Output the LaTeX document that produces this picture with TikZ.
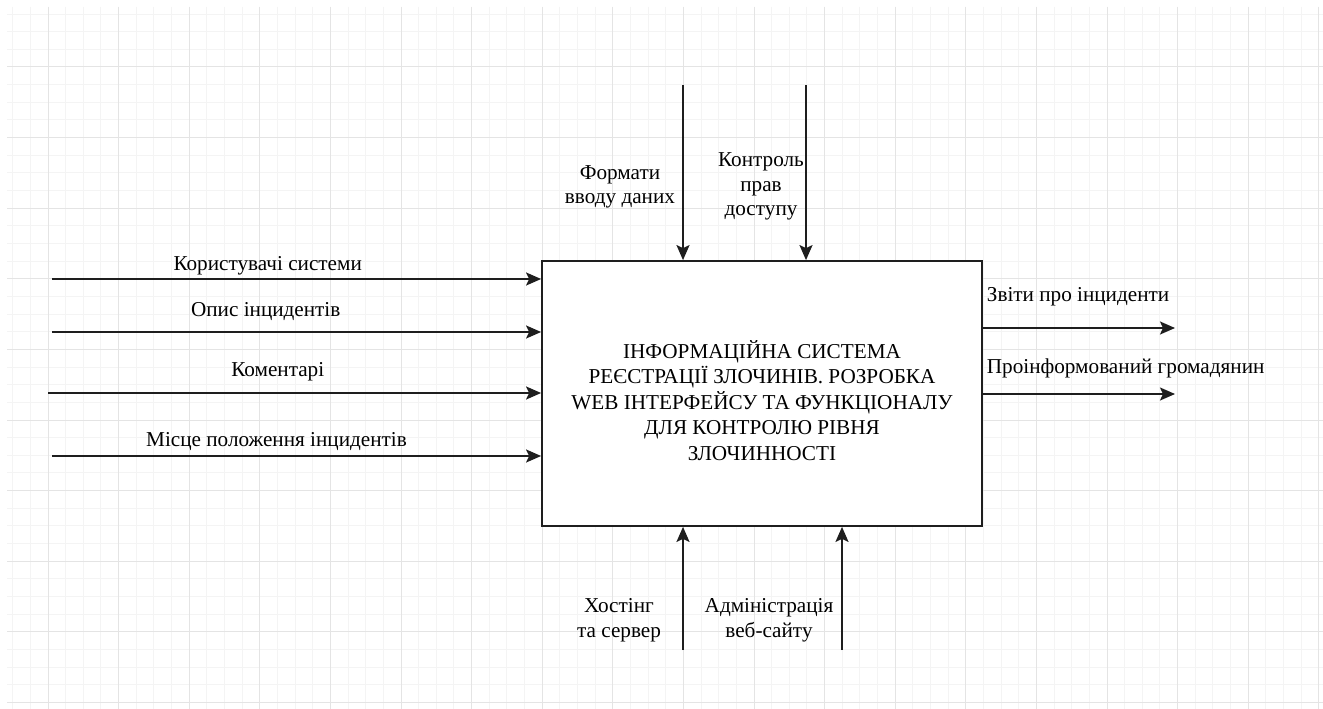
\documentclass[tikz,border=0pt]{standalone}
\usepackage{fontspec}
\setmainfont{LiberationSerif}[Extension=.ttf, UprightFont=*-Regular, BoldFont=*-Bold]
\usetikzlibrary{arrows.meta, calc}
\definecolor{gridminor}{RGB}{244, 244, 244}
\definecolor{gridmajor}{RGB}{228, 228, 228}
\definecolor{linecol}{RGB}{30, 30, 30}

\begin{document}
\begin{tikzpicture}[
    x=1pt, y=-1pt,
    procbox/.style={draw=linecol, line width=1.8pt, fill=white, minimum width=440pt, minimum height=265pt, inner sep=0pt},
    boxtext/.style={align=center, inner sep=0pt, font=\fontsize{21.2}{25.4}\selectfont},
    arrow/.style={-{Stealth[length=15pt, width=13pt, inset=3pt]}, line width=1.8pt, draw=linecol},
    lbl/.style={font=\fontsize{21.2}{24.5}\selectfont, inner sep=0pt, align=center}
]
    % Canvas and grid
    \useasboundingbox (0,0) rectangle (1323,709);
    \fill[white] (0,0) rectangle (1323,709);
    \begin{scope}
        \clip (7,7) rectangle (1323,709);
        \foreach \i in {0,...,74}
            \draw[gridminor, line width=1pt] ({12.7+\i*17.65},7) -- ++(0,702);
        \foreach \j in {0,...,39}
            \draw[gridminor, line width=1pt] (7,{14.05+\j*17.65}) -- ++(1316,0);
        \foreach \i in {0,...,18}
            \draw[gridmajor, line width=1pt] ({48+\i*70.6},7) -- ++(0,702);
        \foreach \j in {0,...,9}
            \draw[gridmajor, line width=1pt] (7,{67+\j*70.6}) -- ++(1316,0);
    \end{scope}

    % Main function block
    \node[procbox] (sys) at (762,393.5) {};
    \node[boxtext] (systitle) at ([yshift=-7pt]sys.center) {ІНФОРМАЦІЙНА СИСТЕМА\\РЕЄСТРАЦІЇ ЗЛОЧИНІВ. РОЗРОБКА\\WEB ІНТЕРФЕЙСУ ТА ФУНКЦІОНАЛУ\\ДЛЯ КОНТРОЛЮ РІВНЯ\\ЗЛОЧИННОСТІ};

    % Free ends of the connectors
    \coordinate (in1) at (52,279);
    \coordinate (in2) at (52,332);
    \coordinate (in3) at (48,393);
    \coordinate (in4) at (52,456);
    \coordinate (ctl1) at (683,85);
    \coordinate (ctl2) at (806,85);
    \coordinate (mech1) at (683,650);
    \coordinate (mech2) at (842,650);
    \coordinate (out1) at (1175,328);
    \coordinate (out2) at (1175,394);

    % Inputs
    \draw[arrow] (in1) -- (in1 -| sys.west) node[lbl, pos=0.441, anchor=base, yshift=9pt] {Користувачі системи};
    \draw[arrow] (in2) -- (in2 -| sys.west) node[lbl, pos=0.437, anchor=base, yshift=15.3pt] {Опис інцидентів};
    \draw[arrow] (in3) -- (in3 -| sys.west) node[lbl, pos=0.466, anchor=base, yshift=16.3pt] {Коментарі};
    \draw[arrow] (in4) -- (in4 -| sys.west) node[lbl, pos=0.459, anchor=base, yshift=9.3pt] {Місце положення інцидентів};

    % Controls
    \draw[arrow] (ctl1) -- (ctl1 |- sys.north) node[lbl, pos=0.583, xshift=-63pt] {Формати\\вводу даних};
    \draw[arrow] (ctl2) -- (ctl2 |- sys.north) node[lbl, pos=0.58, xshift=-45pt] {Контроль\\прав\\доступу};

    % Mechanisms
    \draw[arrow] (mech1) -- (mech1 |- sys.south) node[lbl, pos=0.242, xshift=-64pt] {Хостінг\\та сервер};
    \draw[arrow] (mech2) -- (mech2 |- sys.south) node[lbl, pos=0.242, xshift=-73pt] {Адміністрація\\веб-сайту};

    % Outputs
    \draw[arrow] (out1 -| sys.east) -- (out1) node[lbl, pos=0.016, anchor=base west, yshift=27pt] {Звіти про інциденти};
    \draw[arrow] (out2 -| sys.east) -- (out2) node[lbl, pos=0.016, anchor=base west, yshift=20.3pt] {Проінформований громадянин};
\end{tikzpicture}
\end{document}
